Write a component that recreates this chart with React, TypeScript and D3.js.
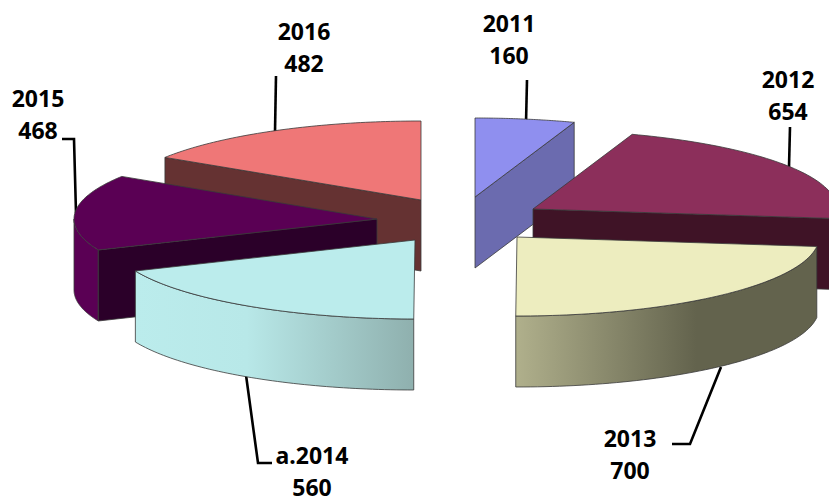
import React from "react";
import * as d3 from "d3";

const years = ["2011", "2012", "2013", "a.2014", "2015", "2016"];
const values = [160, 654, 700, 560, 468, 482];
const topColors = ["#8f8fef", "#8c2f5b", "#ededbf", "#bbecec", "#5a0054", "#ef7777"];
const wallColors = ["#6b6baf", "#3f1326", "url(#g2013)", "url(#g2014)", "#5a0054", "#653232"];
const cutColors = ["#6b6baf", "#3f1326", "#63634d", "#8fb0ae", "#2b0029", "#653232"];

// layout: apex of each exploded slice and horizontal radius
const apexX = [475, 533, 517, 415, 377, 421];
const apexY = [197, 209, 237, 240, 219, 200];
const radiusX = [304, 304, 302, 304, 303, 304];
const radiusY = 79;
const depth = 71;
const drawOrder = [5, 0, 4, 1, 2, 3];

const labelLines = [
  { i: 0, x: 509, y: 32 },
  { i: 1, x: 788, y: 88 },
  { i: 2, x: 630, y: 447 },
  { i: 3, x: 312, y: 464 },
  { i: 4, x: 38, y: 107 },
  { i: 5, x: 304, y: 40 },
];
const leaders: [number, number][][] = [
  [[527, 80], [526, 123]],
  [[790, 127], [789, 167]],
  [[672, 444], [690, 444], [721, 367]],
  [[272, 463], [258, 463], [246, 375]],
  [[62, 139], [74, 139], [76, 213]],
  [[276, 76], [275, 132]],
];

const arcs = d3.pie<number>().sort(null)(values);
const TAU = Math.PI * 2;

function pt(i: number, a: number, dz = 0): [number, number] {
  return [apexX[i] + radiusX[i] * Math.sin(a), apexY[i] - radiusY * Math.cos(a) + dz];
}
function sample(i: number, a0: number, a1: number, dz = 0): [number, number][] {
  return d3.range(0, 61).map((k) => pt(i, a0 + ((a1 - a0) * k) / 60, dz));
}
const line = d3.line();

function topPath(i: number) {
  const { startAngle, endAngle } = arcs[i];
  return line([[apexX[i], apexY[i]], ...sample(i, startAngle, endAngle)]) + "Z";
}
function outerWall(i: number) {
  const a0 = Math.max(arcs[i].startAngle, TAU / 4);
  const a1 = Math.min(arcs[i].endAngle, (TAU * 3) / 4);
  if (a1 <= a0) return null;
  return line([...sample(i, a0, a1), ...sample(i, a1, a0, depth)]) + "Z";
}
function cutWall(i: number) {
  // the radial cut that faces the viewer
  const usesEnd = i < 2;
  const a = usesEnd ? arcs[i].endAngle : arcs[i].startAngle;
  const p = pt(i, a);
  return (
    line([
      [apexX[i], apexY[i]],
      p,
      [p[0], p[1] + depth],
      [apexX[i], apexY[i] + depth],
    ]) + "Z"
  );
}
const hasCut = [true, true, false, false, true, true];
const edge = "#3a3a3a";

export default function App() {
  return (
    <svg
      width={829}
      height={498}
      style={{ position: "absolute", left: 0, top: 0, display: "block", background: "#fff" }}
    >
      <defs>
        <linearGradient id="g2013" gradientUnits="objectBoundingBox" x1="0" x2="1" y1="0" y2="0">
          <stop offset="0" stopColor="#b0b08c" />
          <stop offset="0.6" stopColor="#63634d" />
          <stop offset="1" stopColor="#63634d" />
        </linearGradient>
        <linearGradient id="g2014" gradientUnits="objectBoundingBox" x1="0" x2="1" y1="0" y2="0">
          <stop offset="0" stopColor="#bbecec" />
          <stop offset="0.4" stopColor="#b8e8e8" />
          <stop offset="1" stopColor="#8fb0ae" />
        </linearGradient>
      </defs>
      {leaders.map((l, k) => (
        <path key={k} d={line(l) ?? ""} fill="none" stroke="#000" strokeWidth={2.6} />
      ))}
      {drawOrder.map((i) => {
        const wall = outerWall(i);
        return (
          <g key={i} stroke={edge} strokeWidth={0.8} strokeLinejoin="round">
            {wall && <path d={wall} fill={wallColors[i]} />}
            {hasCut[i] && <path d={cutWall(i)} fill={cutColors[i]} />}
            <path d={topPath(i)} fill={topColors[i]} />
          </g>
        );
      })}
      <g
        fontFamily="'Noto Sans', sans-serif"
        fontWeight={700}
        fontSize={23}
        textAnchor="middle"
        fill="#000"
      >
        {labelLines.map(({ i, x, y }) => (
          <g key={i}>
            <text x={x} y={y}>{years[i]}</text>
            <text x={x} y={y + 32}>{d3.format("d")(values[i])}</text>
          </g>
        ))}
      </g>
    </svg>
  );
}
